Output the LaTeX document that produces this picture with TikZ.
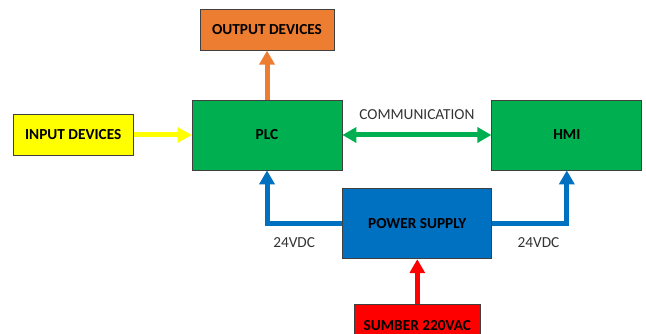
\documentclass[tikz,border=0pt]{standalone}
\usepackage{fontspec}
\setmainfont{Carlito}
\usepackage{xcolor}
\usepackage{tikz}
\usetikzlibrary{arrows.meta, positioning}

\definecolor{plcgreen}{HTML}{00B050}
\definecolor{outorange}{HTML}{ED7D31}
\definecolor{inyellow}{HTML}{FFFF00}
\definecolor{psblue}{HTML}{0070C0}
\definecolor{acred}{HTML}{FF0000}

\begin{document}
\begin{tikzpicture}[
    x=1pt, y=1pt,
    box/.style={draw=black!75, line width=0.8pt, minimum height=41pt, font=\fontsize{15.3}{18}\selectfont\bfseries, align=center},
    arr/.style={-{Triangle[length=14pt, width=15pt]}, line width=5pt},
    lbl/.style={font=\fontsize{15.3}{18}\selectfont, text=black!80},
]
\useasboundingbox (0,0) rectangle (646,-334);
\clip (0,0) rectangle (646,-334);

\node[box, fill=plcgreen, minimum width=150pt, minimum height=70pt] (plc) at (267,-135) {PLC};
\node[box, fill=plcgreen, minimum width=150pt, minimum height=70pt, right=149pt of plc] (hmi) {HMI};
\node[box, fill=outorange, minimum width=134pt, above=49pt of plc] (out) {OUTPUT DEVICES};
\node[box, fill=inyellow, minimum width=120pt, left=58pt of plc] (in) {INPUT DEVICES};
\node[box, fill=psblue, minimum width=149pt, minimum height=70pt, below right=18pt and 0pt of plc.south east] (ps) {POWER SUPPLY};
\node[box, fill=acred, minimum width=126pt, below=45pt of ps] (ac) {SUMBER 220VAC};

\draw[arr, draw=outorange, fill=outorange] (plc) -- (out);
\draw[arr, draw=inyellow, fill=inyellow] (in.east) -- (in.east -| plc.west);
\draw[arr, {Triangle[length=14pt, width=15pt]}-{Triangle[length=14pt, width=15pt]}, draw=plcgreen] (plc) -- node[lbl, above=10pt] (comm) {COMMUNICATION} (hmi);
\draw[arr, draw=psblue] (ps.west) -| node[lbl, below=8pt, pos=0.32] (vleft) {24VDC} (plc);
\draw[arr, draw=psblue] (ps.east) -| node[lbl, below=8pt, pos=0.31] (vright) {24VDC} (hmi);
\draw[arr, draw=acred] (ac) -- (ps);
\end{tikzpicture}
\end{document}
